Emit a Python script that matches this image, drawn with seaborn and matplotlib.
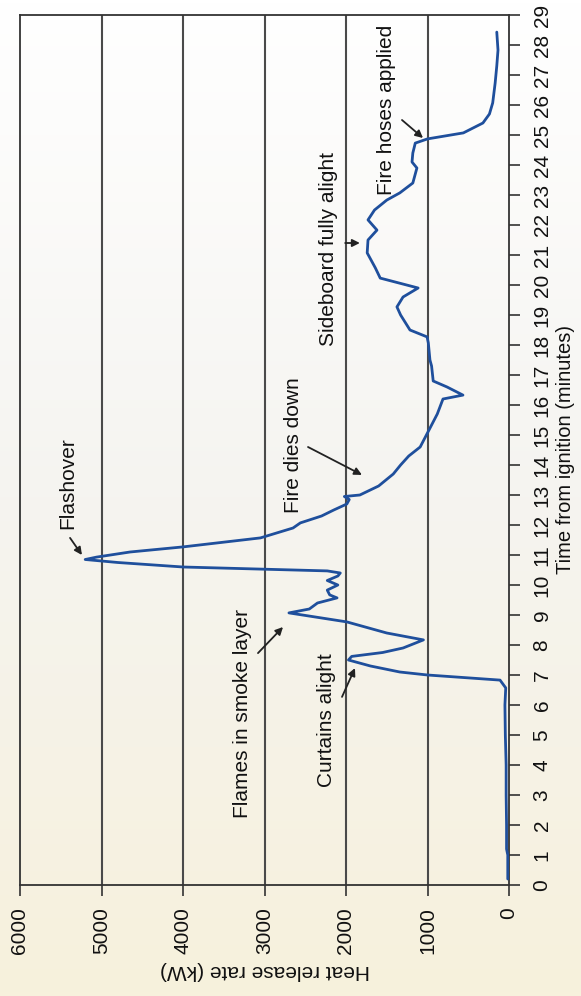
import numpy as np
import pandas as pd
import matplotlib
matplotlib.use("Agg")
import matplotlib.pyplot as plt
import seaborn as sns
from matplotlib.colors import LinearSegmentedColormap

# ---- data ----
time_min = [0.2, 1.0, 1.2, 2.0, 3.0, 4.0, 5.0, 6.0, 6.57, 6.83, 7.0, 7.1, 7.3, 7.5,
            7.62, 7.75, 7.9, 8.17, 8.4, 8.77, 9.07, 9.2, 9.4, 9.57, 9.67, 9.83, 10.0,
            10.15, 10.3, 10.4, 10.47, 10.53, 10.6, 10.75, 10.85, 10.93, 11.1, 11.27,
            11.57, 11.9, 12.07, 12.3, 12.5, 12.7, 12.85, 12.95, 13.0, 13.3, 13.7, 14.0,
            14.3, 14.6, 15.07, 15.7, 16.2, 16.33, 16.6, 16.8, 17.3, 17.5, 18.07, 18.27,
            18.5, 19.0, 19.27, 19.6, 19.9, 20.23, 20.57, 21.07, 21.5, 21.83, 22.17,
            22.5, 22.83, 23.07, 23.4, 23.9, 24.1, 24.4, 24.73, 24.87, 25.07, 25.4,
            25.7, 26.07, 26.73, 27.3, 27.83, 28.43]
hrr_kw = [15, 15, 30, 30, 35, 35, 45, 50, 40, 110, 1000, 1340, 1700, 1970,
          1930, 1550, 1300, 1050, 1500, 1990, 2700, 2450, 2350, 2110, 2200, 2230, 2100,
          2230, 2100, 2070, 2230, 3050, 4000, 4800, 5200, 5060, 4650, 4000,
          3050, 2650, 2560, 2300, 2150, 1990, 1960, 2020, 1830, 1600, 1420, 1330,
          1230, 1090, 1000, 880, 810, 565, 760, 930, 950, 970, 990, 1005,
          1215, 1330, 1375, 1300, 1115, 1580, 1640, 1740, 1730, 1620, 1730,
          1650, 1500, 1340, 1180, 1130, 1190, 1180, 1150, 1000, 560, 320,
          240, 200, 170, 150, 135, 150]

time_ticks = list(range(0, 30))
hrr_ticks = [0, 1000, 2000, 3000, 4000, 5000, 6000]
grid_levels = [1000, 2000, 3000, 4000, 5000]

# annotations: text, text position (kW, min), arrow tail, arrow head
ann_text = ["Flashover", "Flames in smoke layer", "Curtains alight",
            "Fire dies down", "Sideboard fully alight", "Fire hoses applied"]
ann_pos = [(5410, 13.4), (3276, 5.7), (2245, 5.5), (2650, 14.67), (2220, 21.2), (1497, 25.83)]
ann_tail = [(5386, 11.57), (3080, 7.73), (2049, 6.27), (2466, 14.6), (2010, 21.4), (1313, 25.5)]
ann_head = [(5240, 11.0), (2773, 8.6), (1890, 7.23), (1804, 13.67), (1830, 21.4), (1055, 24.9)]

df = pd.DataFrame({"time": time_min, "hrr": hrr_kw})

sns.set_theme(style="white")
plt.rcParams["font.family"] = ["Liberation Sans", "DejaVu Sans"]

fig = plt.figure(figsize=(5.81, 9.96), dpi=100)

# scanned-paper background tint
bg = fig.add_axes([0, 0, 1, 1], zorder=-10)
grad = np.linspace(0, 1, 256).reshape(-1, 1)
cmap = LinearSegmentedColormap.from_list("paper", ["#ffffff", "#f5f4f0", "#f7f1dc"])
bg.imshow(grad, aspect="auto", cmap=cmap, extent=[0, 1, 0, 1], origin="upper")
bg.set_axis_off()

ax = fig.add_axes([20 / 581, 1 - 885 / 996, (509 - 20) / 581, (885 - 15) / 996])
ax.set_facecolor("none")

for v in grid_levels:
    ax.axvline(v, color="#4a4a4a", lw=1.5, zorder=1)

sns.lineplot(data=df, x="hrr", y="time", orient="y", estimator=None,
             color="#1f4f9c", lw=2.0, ax=ax, zorder=3)

ax.set_xlim(6000, 0)
ax.set_ylim(0, 29)
ax.set_xticks(hrr_ticks)
ax.set_xticklabels([str(t) for t in hrr_ticks])
ax.set_yticks(time_ticks)
ax.set_yticklabels([str(t) for t in time_ticks])
ax.yaxis.tick_right()
ax.yaxis.set_label_position("right")

for s in ax.spines.values():
    s.set_color("#333333")
    s.set_linewidth(1.3)

ax.tick_params(axis="y", direction="out", length=8, width=1.2, color="#333333",
               labelrotation=90, pad=9, labelsize=15, left=False, right=True,
               labelleft=False, labelright=True, labelcolor="#111111")
for lab in ax.get_yticklabels():
    lab.set_va("center")
ax.tick_params(axis="x", direction="out", length=8, width=1.2, color="#333333",
               labelrotation=90, pad=8, labelsize=15, bottom=True, labelcolor="#111111")

ax.set_xlabel("Heat release rate (kW)", rotation=180, fontsize=15, labelpad=5, color="#111111")
ax.set_ylabel("Time from ignition (minutes)", rotation=90, fontsize=14.5, labelpad=3, color="#111111")

for txt, pos, tail, head in zip(ann_text, ann_pos, ann_tail, ann_head):
    ax.text(pos[0], pos[1], txt, rotation=90, ha="center", va="center",
            fontsize=15, color="#111111", zorder=5)
    ax.annotate("", xy=head, xytext=tail,
                arrowprops=dict(arrowstyle="-|>", color="#222222", lw=1.3,
                                mutation_scale=11, shrinkA=0, shrinkB=0), zorder=5)

fig.savefig("out.png", dpi=100)
